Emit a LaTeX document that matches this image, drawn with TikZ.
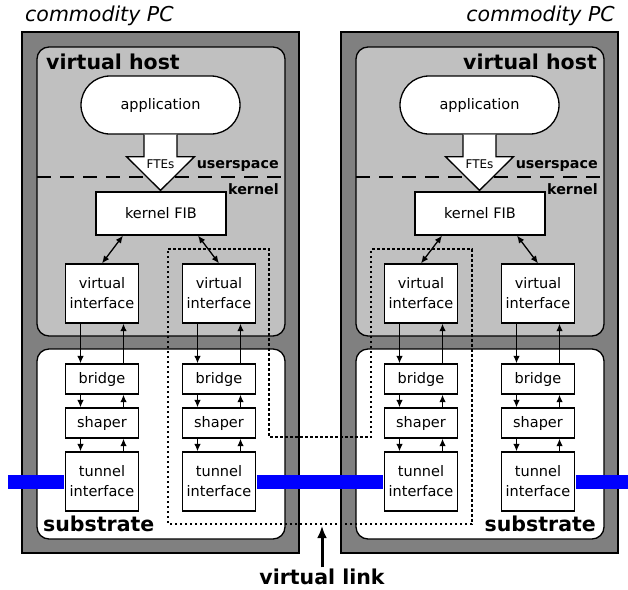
\documentclass[tikz,border=0pt]{standalone}
\usepackage{fontspec}
\setmainfont{DejaVu Sans}
\usetikzlibrary{arrows.meta,shapes.misc,calc}
\definecolor{pcgray}{RGB}{128,128,128}
\definecolor{hostgray}{RGB}{192,192,192}
\definecolor{tunnelblue}{RGB}{0,0,255}
\begin{document}
\begin{tikzpicture}[x=1pt,y=-1pt,
  pcbox/.style={draw=black, line width=2.5pt, fill=pcgray},
  layer/.style={draw=black, line width=1.3pt, rounded corners=12pt},
  boxtext/.style={font=\fontsize{14.5}{20}\selectfont},
  unit/.style={boxtext, draw=black, fill=white, line width=1.3pt,
    minimum width=73pt, inner sep=0pt, align=center},
  appbox/.style={boxtext, rounded rectangle, draw=black, fill=white,
    line width=1.3pt, minimum width=159pt, minimum height=58pt, inner sep=0pt},
  fibbox/.style={boxtext, draw=black, fill=white, line width=1.3pt,
    minimum width=130pt, minimum height=43pt, inner sep=0pt},
  flow/.style={line width=1.3pt, -{Latex[length=7.5pt,width=6.5pt]}},
  biflow/.style={line width=1.3pt, {Latex[length=7.5pt,width=6.5pt]}-{Latex[length=7.5pt,width=6.5pt]}},
  biglabel/.style={font=\fontsize{20.5}{24}\selectfont\bfseries, inner sep=0pt},
  pclabel/.style={font=\fontsize{20.5}{24}\selectfont\itshape, inner sep=0pt},
  layerlabel/.style={font=\fontsize{14.3}{17}\selectfont\bfseries, inner sep=0pt},
  wire/.style={line width=14pt, draw=tunnelblue},
  linkpath/.style={line width=2pt, dash pattern=on 2.5pt off 2.5pt},
]
\useasboundingbox (0,0) rectangle (628,589);

% two identical commodity PCs
\foreach \p/\s in {a/0,b/319}{
  \begin{scope}[xshift=\s pt]
    \draw[pcbox] (22,32) rectangle (299,553);
    \draw[layer, fill=hostgray] (37,47) rectangle (285,336);
    \draw[layer, fill=white] (37,349) rectangle (285,539);
    % userspace / kernel boundary
    \draw[line width=1.8pt, dash pattern=on 14pt off 9pt] (37,177) -- (285,177);

    \node[appbox] (app\p) at (160.5,105) {application};
    \node[fibbox] (fib\p) at (161,213.5) {kernel FIB};

    % block arrow carrying the FTEs
    \draw[line width=1.3pt, fill=white, line join=miter]
      ($(app\p.south)+(-16.5,0)$) -- ($(app\p.south)+(-16.5,22)$)
      -- ($(app\p.south)+(-34,22)$) -- ($(fib\p.north)+(-0.5,-1)$)
      -- ($(app\p.south)+(34,22)$) -- ($(app\p.south)+(16.5,22)$)
      -- ($(app\p.south)+(16.5,0)$);
    \node[font=\fontsize{12}{14}\selectfont, inner sep=0pt] (ftes\p)
      at ($(app\p.south)+(0,30)$) {FTEs};

    \foreach \c/\cx in {1/102,2/219}{
      \node[unit, minimum height=59pt] (vi\c\p) at (\cx,293.5) {virtual\\interface};
      \node[unit, minimum height=30pt] (br\c\p) at (\cx,379) {bridge};
      \node[unit, minimum height=30pt] (sh\c\p) at (\cx,423) {shaper};
      \node[unit, minimum height=59pt] (tu\c\p) at (\cx,481.5) {tunnel\\interface};
      \draw[flow] ([xshift=-21.5pt]vi\c\p.south) -- ([xshift=-21.5pt]br\c\p.north);
      \draw[flow] ([xshift=21.5pt]br\c\p.north) -- ([xshift=21.5pt]vi\c\p.south);
      \draw[flow] ([xshift=-21.5pt]br\c\p.south) -- ([xshift=-21.5pt]sh\c\p.north);
      \draw[flow] ([xshift=21.5pt]sh\c\p.north) -- ([xshift=21.5pt]br\c\p.south);
      \draw[flow] ([xshift=-21.5pt]sh\c\p.south) -- ([xshift=-21.5pt]tu\c\p.north);
      \draw[flow] ([xshift=21.5pt]tu\c\p.north) -- ([xshift=21.5pt]sh\c\p.south);
    }
    \draw[biflow] ([xshift=-38pt]fib\p.south) -- (vi1\p.north);
    \draw[biflow] ([xshift=37pt]fib\p.south) -- (vi2\p.north);
  \end{scope}
}

% layer labels
\node[pclabel, anchor=west] (pca) at (25,16) {commodity PC};
\node[pclabel, anchor=east] (pcb) at (615,16) {commodity PC};
\node[biglabel, anchor=west] (vhosta) at (46,62) {virtual host};
\node[biglabel, anchor=east] (vhostb) at (597,62) {virtual host};
\node[layerlabel, anchor=east] (usera) at (279,166) {userspace};
\node[layerlabel, anchor=east] (userb) at (598,166) {userspace};
\node[layerlabel, anchor=east] (kerna) at (279,189) {kernel};
\node[layerlabel, anchor=east] (kernb) at (598,189) {kernel};
\node[biglabel, anchor=west] (subsa) at (43,524) {substrate};
\node[biglabel, anchor=east] (subsb) at (596,524) {substrate};

% physical tunnels
\coordinate (edgeL) at (8,481.5);
\coordinate (edgeR) at (628,481.5);
\draw[wire, shorten >=0.65pt] (edgeL) -- (tu1a.west);
\draw[wire, shorten <=0.65pt, shorten >=0.65pt] (tu2a.east) -- (tu1b.west);
\draw[wire, shorten <=0.65pt] (tu2b.east) -- (edgeR);

% virtual link spanning both PCs
\draw[linkpath] (168,249) -- (269,249) -- (269,437) -- (371,437) -- (371,249)
  -- (472,249) -- (472,524) -- (168,524) -- cycle;
\node[biglabel] (vlink) at (322,576.5) {virtual link};
\coordinate (vlinktip) at (322,526);
\draw[line width=3pt, -{Latex[length=12pt,width=10pt]}, shorten <=1pt]
  (vlink.north) -- (vlinktip);
\end{tikzpicture}
\end{document}
